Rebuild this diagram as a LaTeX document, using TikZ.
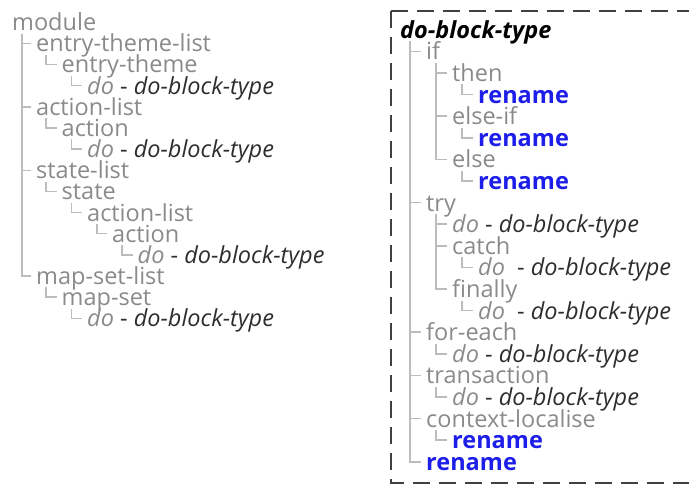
\documentclass[tikz,border=0pt]{standalone}
\usepackage{fontspec}
\setmainfont{Open Sans}
\definecolor{txtgray}{RGB}{138,138,138}
\definecolor{linegray}{RGB}{188,188,188}
\definecolor{typeblack}{RGB}{45,45,45}
\definecolor{renblue}{RGB}{30,30,235}
\newcommand{\dotype}[1][ ]{{\itshape do#1}{\color{typeblack} - \itshape do-block-type}}
\begin{document}
\begin{tikzpicture}[x=1pt,y=-1pt,
  every node/.style={anchor=base west,inner xsep=5pt,inner ysep=0pt,
    font=\fontsize{23.5}{26}\selectfont,text=txtgray},
  ren/.style={text=renblue,font=\fontsize{23.5}{26}\selectfont\bfseries},
  branch/.style={draw=linegray,line width=1.5pt},
  boxline/.style={draw=black!75,line width=2pt,dash pattern=on 17pt off 9pt}]
  \useasboundingbox (0,0) rectangle (689,484);
  \clip (0,0) rectangle (689,484);
  % left tree
  \node (mod)   at (7,30.7)    {module};
  \node (etl)   at (31,51.9)   {entry-theme-list};
  \node (et)    at (56.5,73)   {entry-theme};
  \node (etdo)  at (82,94.2)   {\dotype};
  \node (al)    at (31,115.3)  {action-list};
  \node (ac)    at (56.5,136.5) {action};
  \node (acdo)  at (82,157.6)  {\dotype};
  \node (sl)    at (31,178.8)  {state-list};
  \node (st)    at (56.5,199.9) {state};
  \node (sal)   at (82,221.1)  {action-list};
  \node (sac)   at (107,242.2) {action};
  \node (sacdo) at (132.5,263.4) {\dotype};
  \node (msl)   at (31,284.5)  {map-set-list};
  \node (ms)    at (56.5,305.7) {map-set};
  \node (msdo)  at (82,326.8)  {\dotype};
  % right tree
  \node (dbt)     at (395,38.3)  {\color{black}\bfseries\itshape do-block-type};
  \node (if)      at (421,59.9)  {if};
  \node (then)    at (447,81.5)  {then};
  \node[ren] (thenr) at (473,103.1) {rename};
  \node (elif)    at (447,124.7) {else-if};
  \node[ren] (elifr) at (473,146.3) {rename};
  \node (else)    at (447,167.9) {else};
  \node[ren] (elser) at (473,189.5) {rename};
  \node (try)     at (421,211.1) {try};
  \node (trydo)   at (447,232.7) {\dotype};
  \node (catch)   at (447,254.3) {catch};
  \node (catchdo) at (473,275.9) {\dotype[\ \ ]};
  \node (fin)     at (447,297.5) {finally};
  \node (findo)   at (473,319.1) {\dotype[\ \ ]};
  \node (fe)      at (421,340.7) {for-each};
  \node (fedo)    at (447,362.3) {\dotype};
  \node (tr)      at (421,383.9) {transaction};
  \node (trdo)    at (447,405.5) {\dotype};
  \node (cl)      at (421,427.1) {context-localise};
  \node[ren] (clr) at (447,448.7) {rename};
  \node[ren] (ren) at (421,470.3) {rename};
  \foreach \p/\c in {mod/etl,etl/et,et/etdo,mod/al,al/ac,ac/acdo,mod/sl,sl/st,
      st/sal,sal/sac,sac/sacdo,mod/msl,msl/ms,ms/msdo,
      dbt/if,if/then,then/thenr,if/elif,elif/elifr,if/else,else/elser,
      dbt/try,try/trydo,try/catch,catch/catchdo,try/fin,fin/findo,
      dbt/fe,fe/fedo,dbt/tr,tr/trdo,dbt/cl,cl/clr,dbt/ren}
    \draw[branch] (\p.base west) ++(15,3) |- ([yshift=8.5pt]\c.base west);
  % dashed frame, open to the right
  \draw[boxline] (391,11) -- (720,11);
  \draw[boxline] (391,11) -- (391,483) -- (720,483);
\end{tikzpicture}
\end{document}
